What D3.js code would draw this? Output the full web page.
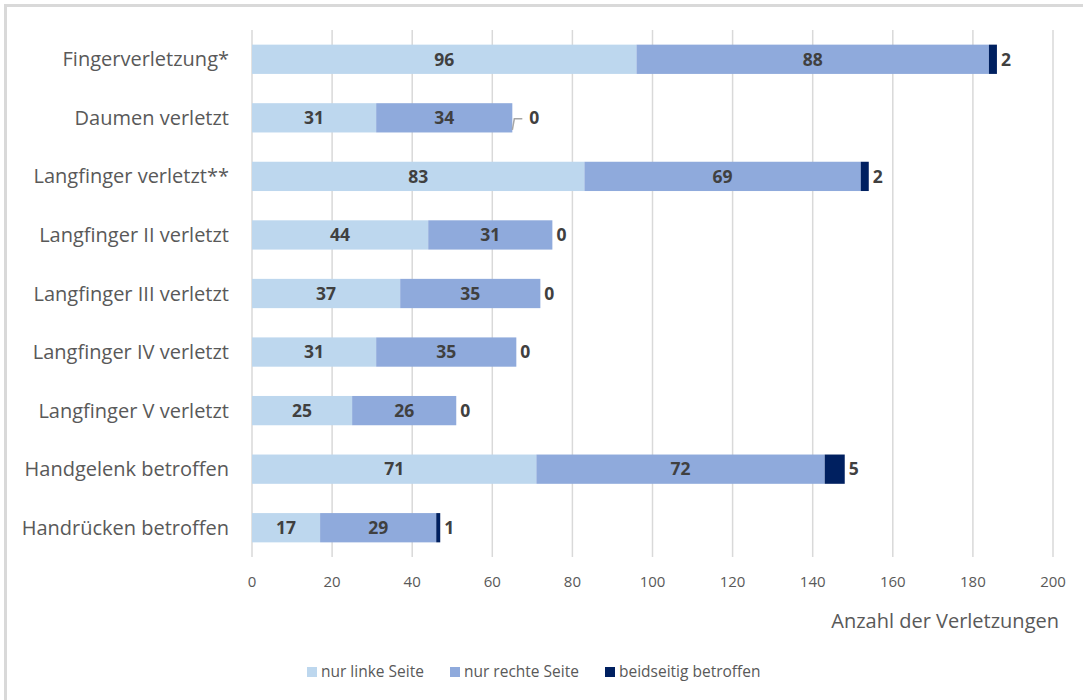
<!DOCTYPE html>
<html>
<head>
<meta charset="UTF-8" />
<title>Verletzungen</title>
<script src="https://d3js.org/d3.v7.min.js"></script>
<style>
  body { margin: 0; background: #fff; }
  svg text { font-family: "Open Sans", sans-serif; }
  .grid line { stroke: #d9d9d9; stroke-width: 1.5; }
  .cat { fill: #595959; font-size: 20px; }
  .tick-lbl { fill: #595959; font-size: 15px; }
  .val { fill: #404040; font-size: 17.5px; font-weight: bold; }
  .legend text { fill: #595959; font-size: 15.5px; }
</style>
</head>
<body>
<script>
var categories = ["Fingerverletzung*", "Daumen verletzt", "Langfinger verletzt**",
  "Langfinger II verletzt", "Langfinger III verletzt", "Langfinger IV verletzt",
  "Langfinger V verletzt", "Handgelenk betroffen", "Handrücken betroffen"];
var nurLinks = [96, 31, 83, 44, 37, 31, 25, 71, 17];
var nurRechts = [88, 34, 69, 31, 35, 35, 26, 72, 29];
var beidseitig = [2, 0, 2, 0, 0, 0, 0, 5, 1];
var seriesNames = ["nur linke Seite", "nur rechte Seite", "beidseitig betroffen"];
var colors = ["#bdd7ee", "#8faadc", "#002060"];
var xTicks = [0, 20, 40, 60, 80, 100, 120, 140, 160, 180, 200];

var width = 1083, height = 700;
var svg = d3.select("body").append("svg").attr("width", width).attr("height", height);

// frame
svg.append("rect").attr("x", 5.5).attr("y", 5.5).attr("width", 1100).attr("height", 720)
  .attr("fill", "none").attr("stroke", "#d9d9d9").attr("stroke-width", 3);

var x = d3.scaleLinear().domain([0, 200]).range([252, 1053]);
var y = d3.scaleBand().domain(categories).range([30, 557]).paddingInner(0.5).paddingOuter(0.25);

// gridlines
svg.append("g").attr("class", "grid").selectAll("line").data(xTicks).enter().append("line")
  .attr("x1", function(d){ return x(d); }).attr("x2", function(d){ return x(d); })
  .attr("y1", 30).attr("y2", 557);

// tick labels
svg.append("g").selectAll("text").data(xTicks).enter().append("text")
  .attr("class", "tick-lbl").attr("x", function(d){ return x(d); }).attr("y", 587)
  .attr("text-anchor", "middle").text(function(d){ return d; });

svg.append("text").attr("class", "tick-lbl").attr("x", 1059).attr("y", 628)
  .attr("text-anchor", "end").style("font-size", "20px").text("Anzahl der Verletzungen");

// category labels
svg.append("g").selectAll("text").data(categories).enter().append("text")
  .attr("class", "cat").attr("x", 229)
  .attr("y", function(d){ return y(d) + y.bandwidth() / 2; })
  .attr("dy", "0.35em").attr("text-anchor", "end").text(function(d){ return d; });

var rows = categories.map(function(c, i){
  return { cat: c, a: nurLinks[i], b: nurRechts[i], c: beidseitig[i] };
});
var stack = d3.stack().keys(["a", "b", "c"]);
var layers = stack(rows);

var g = svg.append("g");
layers.forEach(function(layer, li){
  g.selectAll(".bar" + li).data(layer).enter().append("rect")
    .attr("x", function(d){ return x(d[0]); })
    .attr("y", function(d){ return y(d.data.cat); })
    .attr("width", function(d){ return x(d[1]) - x(d[0]); })
    .attr("height", y.bandwidth())
    .attr("fill", colors[li]);

  g.selectAll(".val" + li).data(layer).enter().append("text")
    .attr("class", "val")
    .attr("x", function(d, i){
      if (li < 2) return (x(d[0]) + x(d[1])) / 2;
      // outside end; Daumen label moved off with a leader line
      return x(d[1]) + (d.data.cat === "Daumen verletzt" ? 17 : 4);
    })
    .attr("y", function(d){ return y(d.data.cat) + y.bandwidth() / 2; })
    .attr("dy", "0.36em")
    .attr("text-anchor", li < 2 ? "middle" : "start")
    .text(function(d){ return d.data[["a", "b", "c"][li]]; });
});

// leader line for Daumen
var dEnd = x(nurLinks[1] + nurRechts[1] + beidseitig[1]);
var dMid = y("Daumen verletzt") + y.bandwidth() / 2;
svg.append("path")
  .attr("d", "M" + dEnd + "," + (dMid + 12) + "L" + (dEnd + 2) + "," + (dMid + 1) + "L" + (dEnd + 10) + "," + (dMid + 1))
  .attr("fill", "none").attr("stroke", "#a6a6a6").attr("stroke-width", 1.5);

// legend
var legX = [307, 450, 605];
var leg = svg.append("g").attr("class", "legend");
seriesNames.forEach(function(n, i){
  leg.append("rect").attr("x", legX[i]).attr("y", 667).attr("width", 10).attr("height", 10).attr("fill", colors[i]);
  leg.append("text").attr("x", legX[i] + 14).attr("y", 672).attr("dy", "0.35em").text(n);
});
</script>
</body>
</html>
